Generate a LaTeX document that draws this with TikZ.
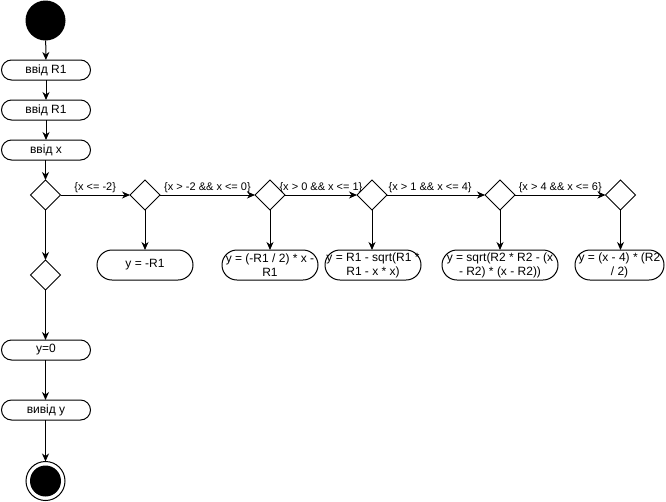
\documentclass[tikz,border=0pt]{standalone}
\usepackage{fontspec}
\setmainfont{Liberation Sans}
\usetikzlibrary{shapes.geometric,arrows.meta}
\newcommand\cl[1]{\makebox[0pt][c]{#1}}
\begin{document}
\begin{tikzpicture}[x=1pt,y=-1pt,
  every node/.style={outer sep=0pt},
  linebox/.style={draw, line width=1pt, rounded corners=10pt, minimum width=89pt, minimum height=20pt, inner sep=0pt, font=\fontsize{12}{14}\selectfont},
  rowbox/.style={draw, line width=1pt, rounded corners=15pt, minimum height=30pt, inner sep=0pt, align=center, font=\fontsize{12}{14}\selectfont},
  dia/.style={diamond, draw, line width=1pt, minimum width=30pt, minimum height=30pt, inner sep=0pt},
  arr/.style={line width=1pt, -{Stealth[length=8pt,width=7pt,inset=2.5pt]}},
  lbl/.style={font=\fontsize{11}{13}\selectfont, above=1pt, inner sep=1pt}]
\useasboundingbox (0,0) rectangle (666,501);

\node[circle, fill=black, minimum size=40pt, inner sep=0pt] (start) at (45.5,20.5) {};
\node[linebox] (in1) at (46,70) {ввід R1};
\node[linebox] (in2) at (46,110) {ввід R1};
\node[linebox] (in3) at (46,150) {ввід x};
\node[dia] (d1) at (45.5,195) {};
\node[dia] (d0) at (45.5,275) {};
\node[linebox] (y0) at (46,350) {y=0};
\node[linebox] (out) at (46,410) {вивід у};
\node[circle, draw, line width=1pt, minimum size=39pt, inner sep=0pt] (end) at (45.5,481) {};
\node[circle, fill=black, minimum size=31pt, inner sep=0pt] (endin) at (end) {};

\node[dia] (d2) at (145,195) {};
\node[dia] (d3) at (270,195) {};
\node[dia] (d4) at (372,195) {};
\node[dia] (d5) at (500,195) {};
\node[dia] (d6) at (620.5,195) {};

\node[rowbox, minimum width=96pt] (b2) at (145,265) {y = -R1};
\node[rowbox, minimum width=96pt] (b3) at (270,265) {\cl{y = (-R1 / 2) * x -}\\\cl{R1}};
\node[rowbox, minimum width=96pt] (b4) at (373,265) {\cl{y = R1 - sqrt(R1 *}\\\cl{R1 - x * x)}};
\node[rowbox, minimum width=116pt] (b5) at (500,265) {\cl{y = sqrt(R2 * R2 - (x}\\\cl{- R2) * (x - R2))}};
\node[rowbox, minimum width=89pt] (b6) at (619.5,265) {\cl{y = (x - 4) * (R2}\\\cl{/ 2)}};

\draw[arr] (start) -- (in1);
\draw[arr] (in1) -- (in2);
\draw[arr] (in2) -- (in3);
\draw[arr] (in3.south -| d1) -- (d1.north);
\draw[arr] (d1.south) -- (d0.north);
\draw[arr] (d0.south) -- (y0.north -| d0);
\draw[arr] (y0.south -| d0) -- (out.north -| d0);
\draw[arr] (out.south -| end) -- (end.north);

\draw[arr] (d1.east) -- node[lbl] {\{x <= -2\}} (d2.west);
\draw[arr] (d2.east) -- node[lbl] {\{x > -2 \&\& x <= 0\}} (d3.west);
\draw[arr] (d3.east) -- node[lbl] {\{x > 0 \&\& x <= 1\}} (d4.west);
\draw[arr] (d4.east) -- node[lbl, pos=0.44] {\{x > 1 \&\& x <= 4\}} (d5.west);
\draw[arr] (d5.east) -- node[lbl] {\{x > 4 \&\& x <= 6\}} (d6.west);

\draw[arr] (d2.south) -- (b2.north);
\draw[arr] (d3.south) -- (b3.north);
\draw[arr] (d4.south) -- (b4.north -| d4);
\draw[arr] (d5.south) -- (b5.north);
\draw[arr] (d6.south) -- (b6.north -| d6);
\end{tikzpicture}
\end{document}
